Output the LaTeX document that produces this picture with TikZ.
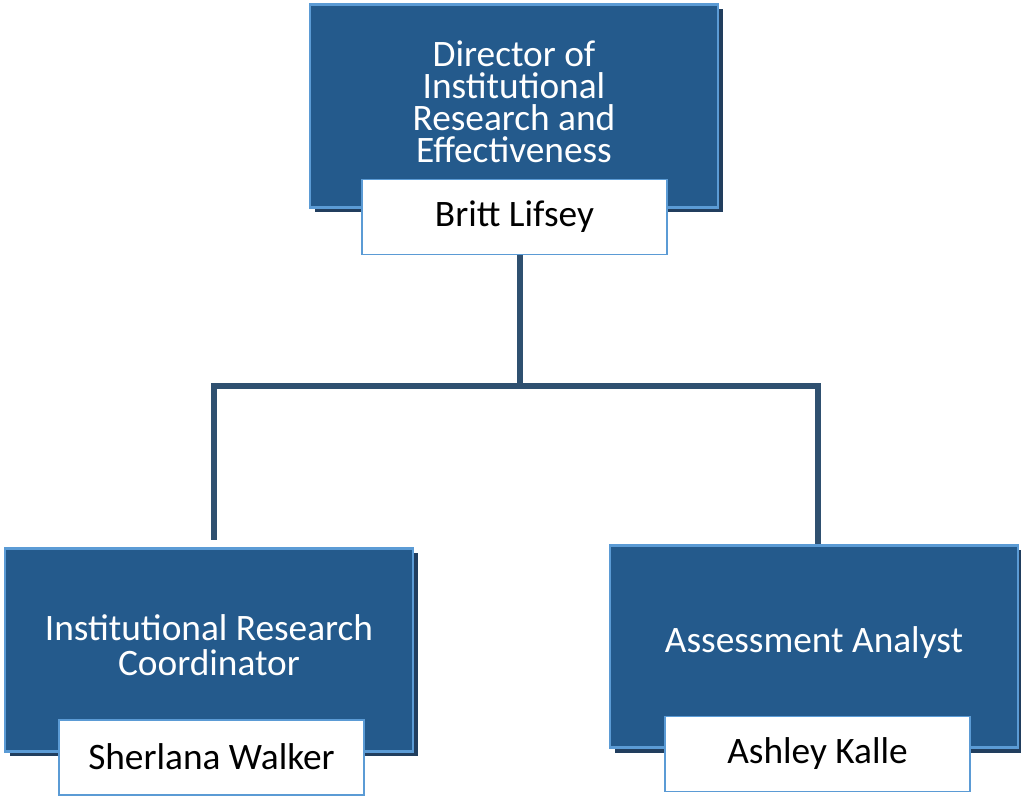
\documentclass[tikz,border=0pt]{standalone}
\usepackage{fontspec}
\setmainfont{Carlito}
\usetikzlibrary{shadows}
\definecolor{postblue}{HTML}{245A8C}
\definecolor{edgeblue}{HTML}{5B9BD5}
\definecolor{shadeblue}{HTML}{213E5E}
\definecolor{lineblue}{HTML}{2F5070}
\tikzset{%
  rolebox/.style = {rectangle,draw=edgeblue,line width=2.2pt,fill=postblue,
        text=white,align=center,minimum width=306pt,minimum height=152pt,
        drop shadow={shadow xshift=3.5pt,shadow yshift=-3.5pt,
        fill=shadeblue,opacity=1}},
  holder/.style = {rectangle,draw=edgeblue,line width=1.1pt,fill=white,
        text=black,minimum width=229pt,minimum height=56pt},
  link/.style = {draw=lineblue,line width=4pt}
}
\begin{document}
\begin{tikzpicture}[x=0.75pt,y=-0.75pt,font=\fontsize{28}{26}\selectfont]
    \useasboundingbox (0,0) rectangle (1021,796);
    \node[rolebox] (dir) at (514,106) {};
    \node[align=center,text=white,font=\fontsize{28}{24}\selectfont]
        (dirtext) at (514,102) {Director of\\Institutional\\Research and\\Effectiveness};
    \node[holder] (dirname) at (514.5,217) {Britt Lifsey};

    \node[rolebox] (irc) at (209,650) {};
    \node[align=center,text=white] (irctext) at (209,645)
        {Institutional Research\\Coordinator};
    \node[holder] (ircname) at (211.5,757.5) {\raisebox{2pt}{Sherlana Walker}};

    \node[rolebox] (aa) at (814,646.5) {};
    \node[text=white] (aatext) at (814,643) {Assessment Analyst};
    \node[holder] (aaname) at (817.5,754) {Ashley Kalle};

    \coordinate (split) at (520,386);
    \coordinate (ircend) at (214,540);
    \draw[link] (dirname.south -| split) -- (split);
    \draw[link] (split) -| (ircend);
    \draw[link] (split) -| ([xshift=3pt]aa.north);
\end{tikzpicture}
\end{document}
